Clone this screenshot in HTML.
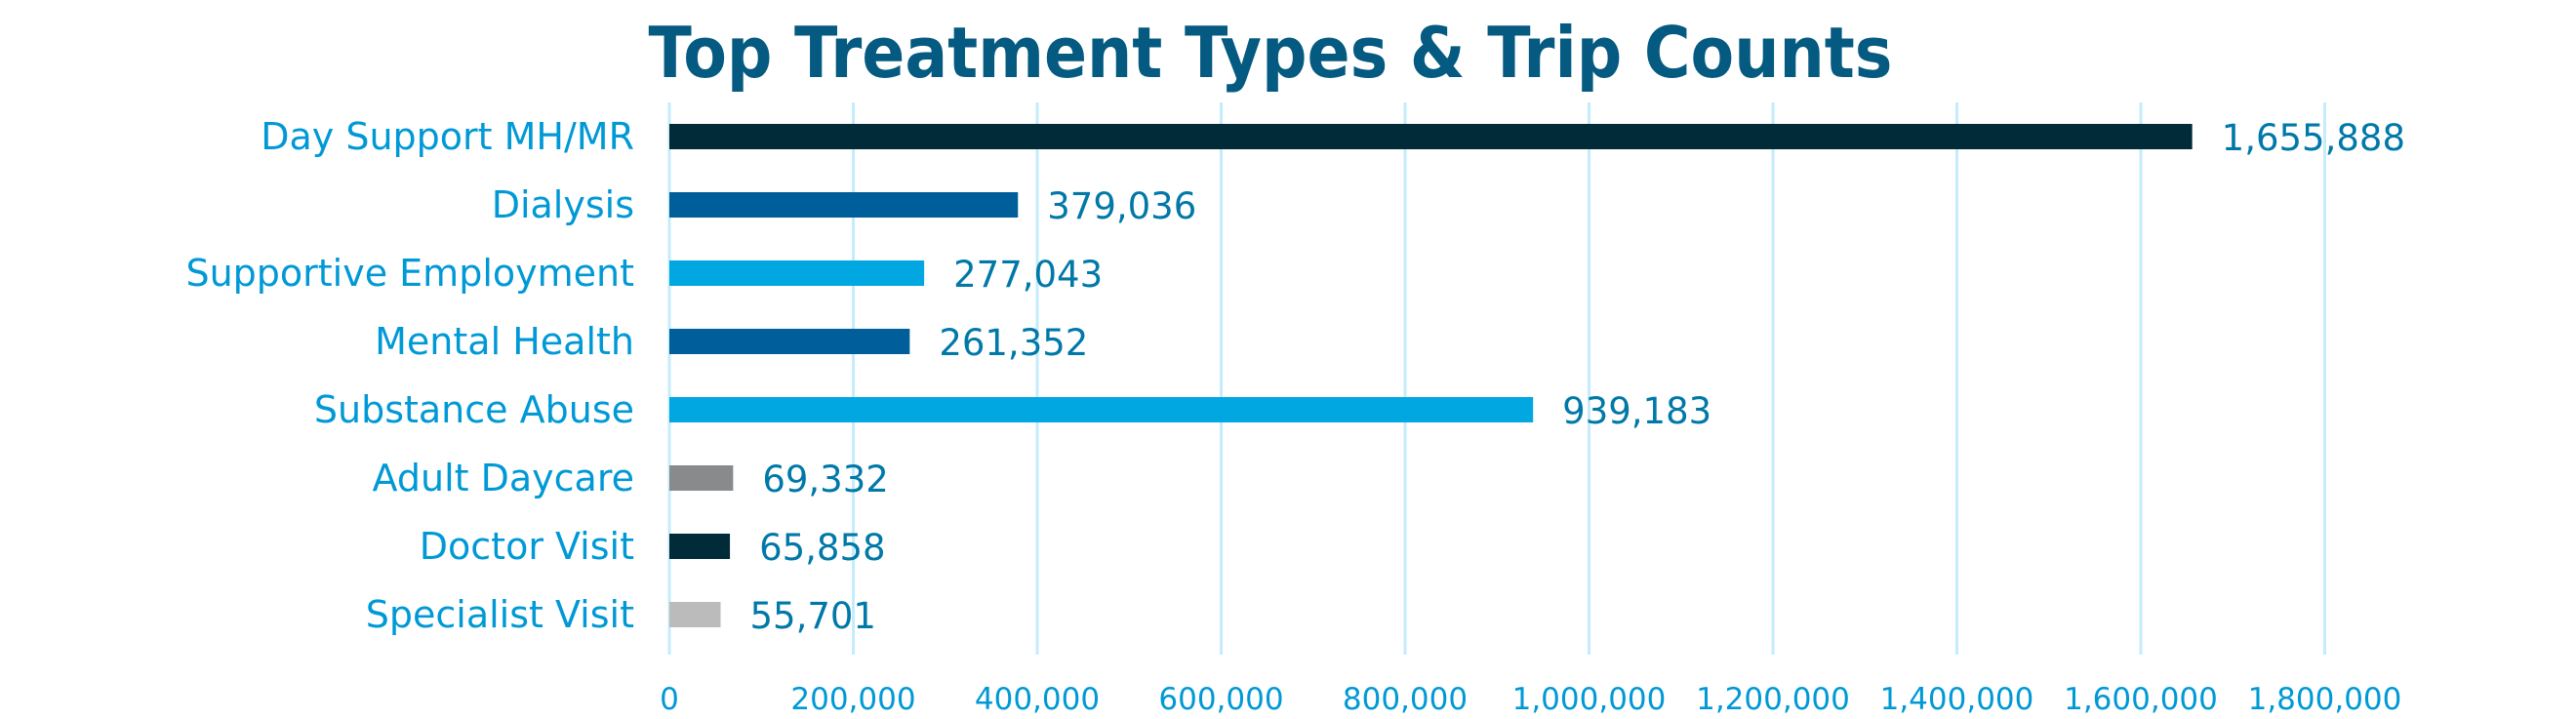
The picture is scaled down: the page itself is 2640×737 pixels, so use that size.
<!DOCTYPE html>
<html><head><meta charset="utf-8"><style>
html,body{margin:0;padding:0;background:#fff;}
svg{display:block;}
</style></head><body>
<svg id="chart" width="2640" height="737" xmlns="http://www.w3.org/2000/svg" font-family="'DejaVu Sans','Liberation Sans',sans-serif">
<text x="1302" y="79" text-anchor="middle" font-size="72" font-weight="bold" fill="#045a80" textLength="1275" lengthAdjust="spacingAndGlyphs">Top Treatment Types &amp; Trip Counts</text>
<g id="grid"></g><g id="bars"></g><g id="labels"></g>
</svg>
<script>
const categories = ["Day Support MH/MR","Dialysis","Supportive Employment","Mental Health","Substance Abuse","Adult Daycare","Doctor Visit","Specialist Visit"];
const values = [1655888,379036,277043,261352,939183,69332,65858,55701];
const barColors = ["#022b3a","#005f9a","#00a7e1","#005f9a","#00a7e1","#888a8b","#022b3a","#bbbbbb"];
const ticks = [0,200000,400000,600000,800000,1000000,1200000,1400000,1600000,1800000];
const NS="http://www.w3.org/2000/svg";
const x0=686, pxPer=188.5/200000;
const xs=v=>x0+v*pxPer;
const yc=i=>140+i*70;
function mk(tag,attrs,parent,text){const e=document.createElementNS(NS,tag);for(const k in attrs)e.setAttribute(k,attrs[k]);if(text!==undefined)e.textContent=text;document.getElementById(parent).appendChild(e);return e;}
const fmt=v=>v.toLocaleString("en-US");
ticks.forEach((t,i)=>{
  const l=mk("line",{x1:xs(t),x2:xs(t),y1:105,y2:671,stroke:"#c4ecfb","stroke-width":3},"grid");
  
  
  const tx=mk("text",{x:xs(t),y:727,"text-anchor":"middle","font-size":31,fill:"#0099d6"},"labels",fmt(t));
  
  
});
categories.forEach((c,i)=>{
  const r=mk("rect",{x:x0,y:yc(i)-13,width:xs(values[i])-x0,height:26,fill:barColors[i]},"bars");
  
  
  const cl=mk("text",{x:650,y:yc(i)+13,"text-anchor":"end","font-size":38,fill:"#0099d6"},"labels",c);
  
  
  const vl=mk("text",{x:xs(values[i])+30,y:yc(i)+14,"font-size":37,fill:"#0078a8"},"labels",fmt(values[i]));
  
  
});
</script>
</body></html>
